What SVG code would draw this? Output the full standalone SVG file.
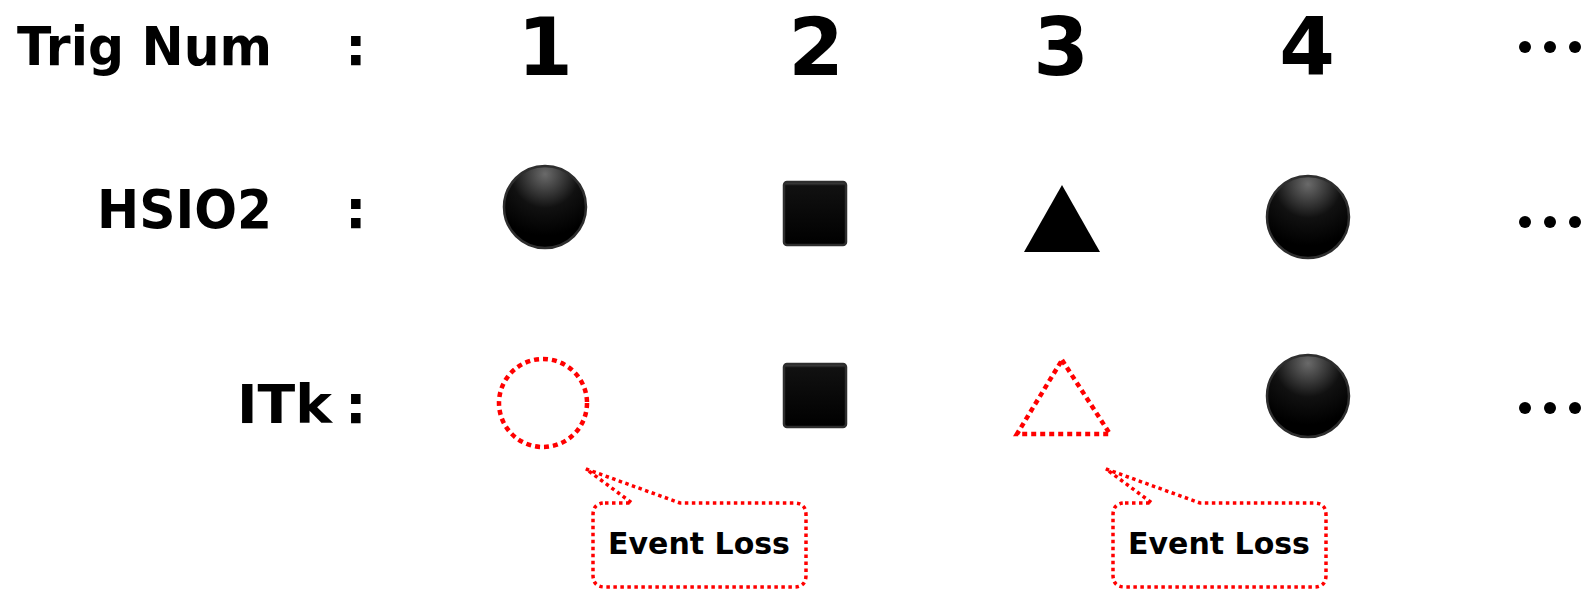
<svg xmlns="http://www.w3.org/2000/svg" width="1585" height="589" viewBox="0 0 1585 589">
<style>
.t{font-family:"DejaVu Sans","Liberation Sans",sans-serif;font-weight:bold;fill:#000}
.lab{font-size:54px}
.num{font-size:80px;text-anchor:middle}
.ev{font-size:30px;text-anchor:middle}
.solid{stroke:#2e2e2e;stroke-width:2.5}
.loss{fill:none;stroke:#ff0000;stroke-width:4.5;stroke-dasharray:5 4}
.call{fill:#fff;stroke:#ff0000;stroke-width:3.5;stroke-dasharray:3.5 3.5}
</style>
<defs>
<radialGradient id="gc" cx="0.5" cy="0.1" r="0.75">
<stop offset="0" stop-color="#6a6a6a"/>
<stop offset="0.55" stop-color="#111"/>
<stop offset="1" stop-color="#000"/>
</radialGradient>
<linearGradient id="gs" x1="0" y1="0" x2="0" y2="1">
<stop offset="0" stop-color="#555"/>
<stop offset="0.06" stop-color="#111"/>
<stop offset="1" stop-color="#000"/>
</linearGradient>
<g id="dots"><circle cx="0" cy="0" r="6"/><circle cx="25" cy="0" r="6"/><circle cx="50" cy="0" r="6"/></g>
<path id="callout" d="M605,503 L632,503 L586,469 L680,503 L794,503 Q806,503 806,515 L806,575 Q806,587 794,587 L605,587 Q593,587 593,575 L593,515 Q593,503 605,503 Z"/>
</defs>

<g id="labels">
<text class="t lab" x="17" y="65" textLength="255" lengthAdjust="spacingAndGlyphs">Trig Num</text>
<text class="t lab" x="345" y="65">:</text>
<text class="t lab" x="97" y="228" textLength="175" lengthAdjust="spacingAndGlyphs">HSIO2</text>
<text class="t lab" x="345" y="228">:</text>
<text class="t lab" x="237" y="423" textLength="95" lengthAdjust="spacingAndGlyphs">ITk</text>
<text class="t lab" x="345" y="423">:</text>
</g>

<g id="numbers">
<text class="t num" x="545" y="75">1</text>
<text class="t num" x="816" y="75">2</text>
<text class="t num" x="1061" y="75">3</text>
<text class="t num" x="1307" y="75">4</text>
</g>

<g id="hsio2-row">
<circle id="h1" class="solid" cx="545" cy="207" r="41" fill="url(#gc)"/>
<rect id="h2" class="solid" x="784" y="182" width="62" height="63" rx="3" fill="url(#gs)"/>
<polygon id="h3" points="1062,185 1100,252 1024,252" fill="#000"/>
<circle id="h4" class="solid" cx="1308" cy="217" r="41" fill="url(#gc)"/>
</g>

<g id="itk-row">
<circle id="i1" class="loss" cx="543" cy="403" r="44"/>
<rect id="i2" class="solid" x="784" y="364" width="62" height="63" rx="3" fill="url(#gs)"/>
<polygon id="i3" class="loss" points="1062,360 1110,434 1017,434"/>
<circle id="i4" class="solid" cx="1308" cy="396" r="41" fill="url(#gc)"/>
</g>

<g id="ellipses" fill="#000">
<use href="#dots" x="1525" y="47"/>
<use href="#dots" x="1525" y="222"/>
<use href="#dots" x="1525" y="408"/>
</g>

<g id="callout1">
<use href="#callout" class="call"/>
<text class="t ev" x="699" y="554">Event Loss</text>
</g>
<g id="callout2">
<use href="#callout" class="call" x="520"/>
<text class="t ev" x="1219" y="554">Event Loss</text>
</g>
</svg>
